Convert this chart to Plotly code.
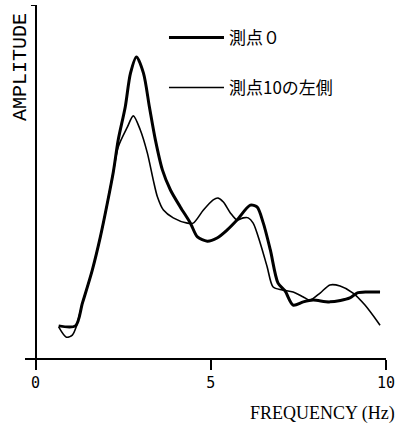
import plotly.graph_objects as go

# Series (frequency in Hz, amplitude in arbitrary units 0-10)
freq_a = [0.66, 1.14, 1.34, 1.62, 1.85, 2.05, 2.22, 2.36, 2.56, 2.71, 2.88, 3.08, 3.25, 3.42,
          3.62, 3.85, 4.13, 4.42, 4.62, 4.90, 5.18, 5.47, 5.75, 6.13, 6.32, 6.50, 6.70, 6.92,
          7.12, 7.35, 7.64, 7.92, 8.40, 8.97, 9.17, 9.46, 9.83]
amp_a = [0.91, 0.91, 1.56, 2.49, 3.43, 4.39, 5.27, 6.18, 7.11, 8.07, 8.53, 8.07, 7.11, 6.18,
         5.33, 4.76, 4.28, 3.82, 3.43, 3.31, 3.40, 3.63, 3.91, 4.33, 4.28, 3.82, 3.06, 2.12,
         1.90, 1.50, 1.59, 1.64, 1.59, 1.70, 1.84, 1.87, 1.87]

freq_b = [0.66, 0.88, 1.05, 1.17, 1.34, 1.62, 1.85, 2.05, 2.22, 2.36, 2.62, 2.79, 2.99, 3.19,
          3.36, 3.48, 3.65, 3.93, 4.33, 4.50, 4.79, 5.07, 5.21, 5.36, 5.56, 5.75, 5.93, 6.07,
          6.21, 6.41, 6.61, 6.78, 7.04, 7.35, 7.64, 7.83, 8.12, 8.40, 8.69, 9.06, 9.40, 9.83]
amp_b = [0.88, 0.59, 0.65, 0.91, 1.56, 2.49, 3.43, 4.39, 5.27, 5.98, 6.54, 6.86, 6.46, 5.81,
         5.04, 4.56, 4.19, 3.97, 3.82, 3.82, 4.19, 4.48, 4.53, 4.42, 4.11, 3.91, 3.97, 3.97,
         3.82, 3.26, 2.58, 2.01, 1.93, 1.87, 1.73, 1.64, 1.84, 2.07, 2.04, 1.84, 1.50, 0.93]

name_a = "測点０"
name_b = "測点10の左側"
tick_vals = [0, 5, 10]
tick_text = ["0", "5", "10"]
x_title = "FREQUENCY (Hz)"
y_title = "AMPLITUDE"

fig = go.Figure()
fig.add_trace(go.Scatter(x=freq_a, y=amp_a, mode="lines", name=name_a, legendgroup="a",
                         line=dict(color="black", width=3, shape="spline", smoothing=0.8)))
fig.add_trace(go.Scatter(x=freq_b, y=amp_b, mode="lines", name=name_b, legendgroup="b",
                         line=dict(color="black", width=1.6, shape="spline", smoothing=0.8)))

fig.update_layout(
    width=409, height=429,
    margin=dict(l=25, r=23, t=5, b=71),
    paper_bgcolor="white", plot_bgcolor="white",
    showlegend=True,
    legend=dict(x=0.385, y=0.958, xanchor="left", yanchor="top",
                font=dict(family="Noto Sans CJK JP", size=17, color="black"),
                bgcolor="rgba(0,0,0,0)", tracegroupgap=25, itemwidth=55,
                traceorder="grouped"),
    xaxis=dict(range=[-0.3, 10], tickvals=tick_vals, ticktext=tick_text,
               ticks="outside", ticklen=10, tickwidth=2, tickcolor="black",
               showline=True, linecolor="black", linewidth=2,
               zeroline=True, zerolinecolor="black", zerolinewidth=2,
               showgrid=False,
               tickfont=dict(family="DejaVu Sans Mono", size=15, color="black")),
    yaxis=dict(range=[0, 10], showticklabels=False, showgrid=False,
               zeroline=False, showline=False, ticks=""),
    annotations=[
        dict(text=x_title, xref="paper", yref="paper", x=1.030, y=-0.156,
             xanchor="right", yanchor="middle", showarrow=False,
             font=dict(family="Liberation Serif", size=18, color="black")),
        dict(text=y_title, xref="paper", yref="paper", x=-0.014, y=0.824, textangle=-90,
             xanchor="center", yanchor="middle", showarrow=False,
             font=dict(family="Liberation Mono", size=20, color="black")),
    ],
    shapes=[
        dict(type="line", xref="x", yref="y", x0=-0.13, x1=0.0, y0=10, y1=10,
             line=dict(color="black", width=2)),
    ],
)

fig.write_html("out.html")
